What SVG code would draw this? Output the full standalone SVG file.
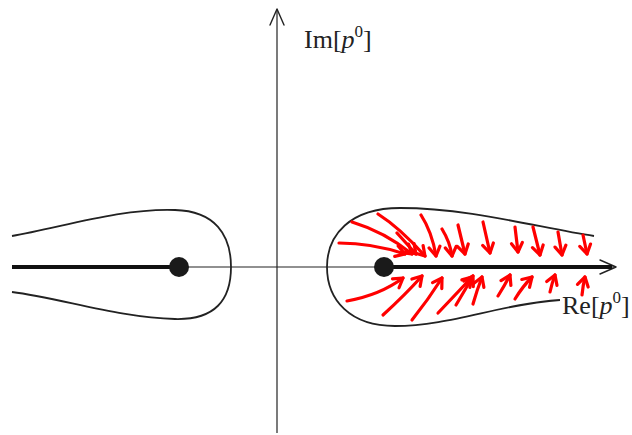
<svg xmlns="http://www.w3.org/2000/svg" width="632" height="435" viewBox="0 0 632 435">
<style>
.axis{stroke:#222;stroke-width:1.2;fill:none}
.cut{stroke:#111;stroke-width:4;fill:none}
.contour{stroke:#222;stroke-width:1.8;fill:none}
.ah{stroke:#222;stroke-width:1.4;fill:none;stroke-linecap:round;stroke-linejoin:round}
.red{stroke:#ff0000;stroke-width:3.2;fill:none;stroke-linecap:round;stroke-linejoin:round;marker-end:url(#rh)}
.lbl{font-family:"Liberation Serif","DejaVu Serif",serif;font-size:26px;fill:#222}
</style>
<defs>
<marker id="rh" markerUnits="userSpaceOnUse" markerWidth="20" markerHeight="20" viewBox="-10 -10 20 20" refX="0" refY="0" orient="auto" overflow="visible">
<path d="M-9,-5.5 L0,0 L-9,5.5" fill="none" stroke="#ff0000" stroke-width="3.2" stroke-linecap="round" stroke-linejoin="round"/>
</marker>
</defs>
<g id="axes">
<line class="axis" x1="277" y1="433" x2="277" y2="9"/>
<path class="ah" d="M270,25 L277,9 L284,25"/>
<line class="axis" x1="12" y1="267" x2="615" y2="267"/>
<path class="ah" d="M600,260 L616,267 L600,274"/>
</g>
<g id="cuts">
<line class="cut" x1="12" y1="267" x2="179" y2="267"/>
<line class="cut" x1="384" y1="267" x2="612" y2="267"/>
</g>
<g id="contour-left">
<path class="contour" d="M12,236 C60,228 120,208 175,210 C215,211 231,235 231,267 C231,300 215,320 175,319 C120,318 60,298 12,292"/>
</g>
<g id="contour-right">
<path class="contour" d="M594,236 C540,228 470,208 400,208 C350,208 327,235 327,267 C327,300 350,326 395,326 C450,326 500,304 560,300"/>
</g>
<g id="pole-left"><circle cx="179" cy="267" r="10" fill="#1a1a1a"/></g>
<g id="pole-right"><circle cx="384" cy="267" r="10" fill="#1a1a1a"/></g>
<g id="flow-arrows">
<path class="red" d="M339,243 Q372,243 405,254"/>
<path class="red" d="M352,222 Q385,232 412,254"/>
<path class="red" d="M378,214 Q400,228 425,256"/>
<path class="red" d="M397,233 L416,254"/>
<path class="red" d="M421,215 Q432,232 436,256"/>
<path class="red" d="M442,229 Q450,242 452,256"/>
<path class="red" d="M458,225 L465,254"/>
<path class="red" d="M483,222 L490,253"/>
<path class="red" d="M515,227 L518,252"/>
<path class="red" d="M533,227 L540,255"/>
<path class="red" d="M558,232 L562,255"/>
<path class="red" d="M583,235 L587,254"/>
<path class="red" d="M347,301 Q380,295 403,278"/>
<path class="red" d="M383,315 Q405,295 422,276"/>
<path class="red" d="M412,320 Q428,300 442,278"/>
<path class="red" d="M438,313 Q458,292 472,277"/>
<path class="red" d="M456,305 Q465,290 473,276"/>
<path class="red" d="M473,304 Q477,290 482,277"/>
<path class="red" d="M498,296 Q505,285 510,275"/>
<path class="red" d="M515,299 Q523,286 532,277"/>
<path class="red" d="M550,292 Q552,283 555,275"/>
<path class="red" d="M582,295 Q583,285 585,277"/>
</g>
<g id="labels">
<text class="lbl" x="304" y="48">Im[<tspan font-style="italic">p</tspan><tspan font-size="17" dy="-11">0</tspan><tspan dy="11">]</tspan></text>
<text class="lbl" x="562" y="314">Re[<tspan font-style="italic">p</tspan><tspan font-size="17" dy="-11">0</tspan><tspan dy="11">]</tspan></text>
</g>
</svg>
